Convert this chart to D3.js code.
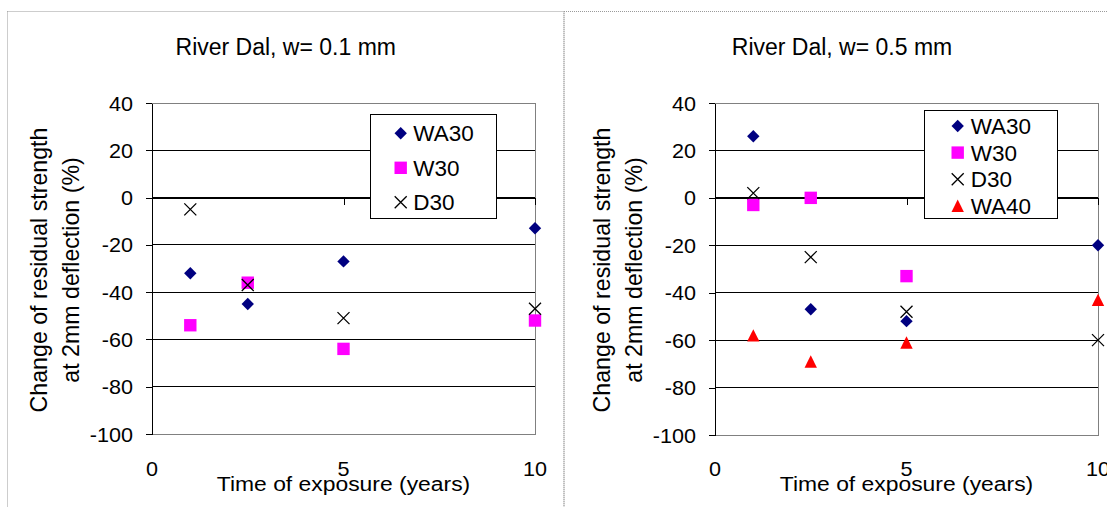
<!DOCTYPE html>
<html>
<head>
<meta charset="utf-8">
<script src="https://cdn.jsdelivr.net/npm/d3@7"></script>
<style>
  html, body { margin: 0; padding: 0; background: #fff; }
  svg { display: block; font-family: "Liberation Sans", Arial, sans-serif; }
</style>
</head>
<body>
<svg id="chart" width="1107" height="507"></svg>
<script>
// Exposure times (years)
const years = [1, 2.5, 5, 10];

// Crack width 0.1 mm
const wa30_01 = [-32, -45, -27, -13];
const w30_01  = [-54, -36, -64, -52];
const d30_01  = [-5, -37, -51, -47];

// Crack width 0.5 mm
const wa30_05 = [26, -47, -52, -20];
const w30_05  = [-3, 0, -33, null];
const d30_05  = [2, -25, -48, -60];
const wa40_05 = [-58, -69, -61, -43];

// Axis ticks and texts
const yTicks = [-100, -80, -60, -40, -20, 0, 20, 40];
const xTicks = [0, 5, 10];
const titles = ["River Dal, w= 0.1 mm", "River Dal, w= 0.5 mm"];
const xTitle = "Time of exposure (years)";
const yTitleLines = ["Change of residual strength", "at 2mm deflection (%)"];

// Marker styles per series
const markerStyle = {
  WA30: { shape: "diamond", color: "#000080" },
  W30:  { shape: "square",  color: "#FF00FF" },
  D30:  { shape: "cross",   color: "#000000" },
  WA40: { shape: "triangle", color: "#FF0000" }
};

function markerPath(shape) {
  const p = d3.path();
  if (shape === "diamond") {
    const h = 6.2;
    p.moveTo(0, -h); p.lineTo(h, 0); p.lineTo(0, h); p.lineTo(-h, 0); p.closePath();
  } else if (shape === "square") {
    const h = 6.2;
    p.rect(-h, -h, 2 * h, 2 * h);
  } else if (shape === "triangle") {
    const h = 6.2;
    p.moveTo(0, -h); p.lineTo(h, h); p.lineTo(-h, h); p.closePath();
  } else {
    const h = 6;
    p.moveTo(-h, -h); p.lineTo(h, h); p.moveTo(h, -h); p.lineTo(-h, h);
  }
  return p.toString();
}

function drawMarker(g, shape, color, x, y) {
  const path = g.append("path")
    .attr("transform", `translate(${x},${y})`)
    .attr("d", markerPath(shape));
  if (shape === "cross") {
    path.attr("fill", "none").attr("stroke", color).attr("stroke-width", 1.3);
  } else {
    path.attr("fill", color).attr("stroke", "none");
  }
}

// Horizontally stretched text helper
function stretchedText(g, x, y, str, size, sx, anchor) {
  return g.append("g").attr("transform", `translate(${x},${y})`)
    .append("text")
    .attr("transform", `scale(${sx},1)`)
    .attr("text-anchor", anchor || "middle")
    .attr("font-size", size)
    .attr("fill", "#000")
    .text(str);
}

const panels = [
  {
    title: titles[0],
    frame: { x: 7.5, y: 11.5, w: 556.5, h: 520 },
    plot: { l: 152, r: 535, t: 103, b: 434 },
    series: [
      { name: "WA30", values: wa30_01 },
      { name: "W30",  values: w30_01 },
      { name: "D30",  values: d30_01 }
    ],
    legend: { x: 370, y: 114, w: 126, h: 104, row0: 133.3, gap: 34.5, mx: 400.7, tx: 413.3 }
  },
  {
    title: titles[1],
    frame: { x: 564, y: 11.5, w: 556, h: 520 },
    plot: { l: 715, r: 1098, t: 103, b: 435 },
    series: [
      { name: "WA30", values: wa30_05 },
      { name: "W30",  values: w30_05 },
      { name: "D30",  values: d30_05 },
      { name: "WA40", values: wa40_05 }
    ],
    legend: { x: 924, y: 110, w: 133, h: 108, row0: 126, gap: 26.6, mx: 957.7, tx: 970.7 }
  }
];

const svg = d3.select("#chart");

panels.forEach(pn => {
  const g = svg.append("g");
  const P = pn.plot;

  // Chart frame (dotted)
  g.append("rect")
    .attr("x", pn.frame.x).attr("y", pn.frame.y)
    .attr("width", pn.frame.w).attr("height", pn.frame.h)
    .attr("fill", "none").attr("stroke", "#9a9a9a")
    .attr("stroke-dasharray", "1,1");

  const x = d3.scaleLinear().domain([0, 10]).range([P.l, P.r]);
  const y = d3.scaleLinear().domain([-100, 40]).range([P.b, P.t]);

  // Title
  g.append("text")
    .attr("x", pn.frame.x + pn.frame.w / 2).attr("y", 55)
    .attr("text-anchor", "middle").attr("font-size", 23)
    .text(pn.title);

  // Plot area border
  g.append("rect")
    .attr("x", P.l).attr("y", y(40))
    .attr("width", P.r - P.l).attr("height", y(-100) - y(40))
    .attr("fill", "none").attr("stroke", "#808080")
    .attr("shape-rendering", "crispEdges");

  // Gridlines
  g.append("g").selectAll("line")
    .data(yTicks.filter(v => v > -100 && v < 40))
    .join("line")
    .attr("x1", P.l).attr("x2", P.r)
    .attr("y1", d => y(d)).attr("y2", d => y(d))
    .attr("stroke", "#000").attr("shape-rendering", "crispEdges");

  // X axis along zero, ticks pointing down
  const xAxis = g.append("g")
    .attr("transform", `translate(0,${y(0)})`)
    .call(d3.axisBottom(x).tickValues(xTicks).tickSize(7).tickFormat(""));
  xAxis.select(".domain").attr("stroke", "#000").attr("shape-rendering", "crispEdges");
  xAxis.selectAll(".tick line").attr("stroke", "#000").attr("shape-rendering", "crispEdges");

  // X tick labels below plot
  xTicks.forEach(v => stretchedText(g, x(v), 476, String(v), 20, 1.08, "middle"));

  // Y axis
  const sx = 1.08;
  const yAxis = g.append("g")
    .attr("transform", `translate(${P.l},0)`)
    .call(d3.axisLeft(y).tickValues(yTicks).tickSize(6).tickPadding(13)
      .tickSizeOuter(0).tickFormat(d => String(d)));
  yAxis.select(".domain").attr("stroke", "#000").attr("shape-rendering", "crispEdges");
  yAxis.selectAll(".tick line").attr("stroke", "#000").attr("shape-rendering", "crispEdges");
  yAxis.selectAll(".tick text")
    .attr("font-size", 20)
    .attr("font-family", "\"Liberation Sans\", Arial, sans-serif")
    .attr("fill", "#000")
    .attr("x", -19 / sx)
    .attr("dy", "0.35em")
    .attr("transform", `scale(${sx},1)`);

  // X axis title
  stretchedText(g, (P.l + P.r) / 2, 491, xTitle, 21, 1.09, "middle");

  // Y axis title (two lines)
  const yMid = 270;
  [P.l - 105.5, P.l - 72.7].forEach((bx, i) => {
    g.append("text")
      .attr("transform", `translate(${bx},${yMid}) rotate(-90)`)
      .attr("text-anchor", "middle").attr("font-size", 23.2)
      .text(yTitleLines[i]);
  });

  // Data markers
  const mg = g.append("g");
  pn.series.forEach(s => {
    const st = markerStyle[s.name];
    s.values.forEach((v, i) => {
      if (v === null) return;
      drawMarker(mg, st.shape, st.color, x(years[i]), y(v));
    });
  });

  // Legend
  const L = pn.legend;
  const lg = g.append("g");
  lg.append("rect")
    .attr("x", L.x + 0.5).attr("y", L.y + 0.5)
    .attr("width", L.w).attr("height", L.h)
    .attr("fill", "#fff").attr("stroke", "#000");
  pn.series.forEach((s, i) => {
    const st = markerStyle[s.name];
    const cy = L.row0 + i * L.gap;
    drawMarker(lg, st.shape, st.color, L.mx, cy);
    lg.append("text")
      .attr("x", L.tx).attr("y", cy + 8)
      .attr("font-size", 22.5)
      .text(s.name);
  });
});
</script>
</body>
</html>
